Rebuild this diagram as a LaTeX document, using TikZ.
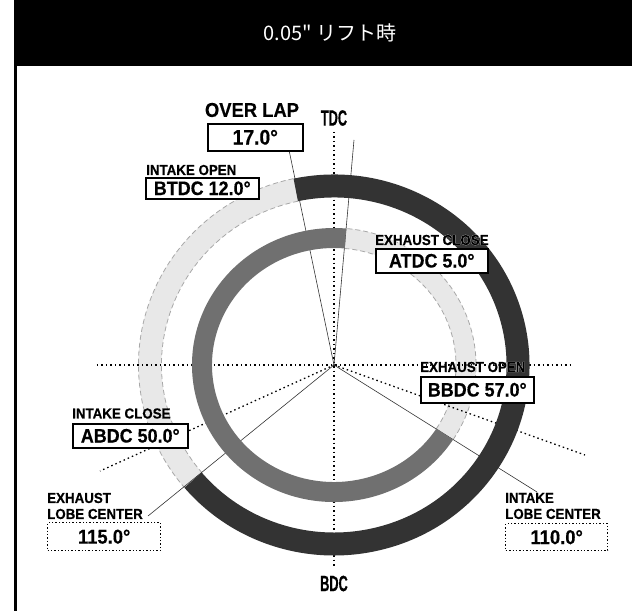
\documentclass[tikz,border=0pt]{standalone}
\usepackage{fontspec}
\setmainfont{Liberation Sans}
\newfontfamily\cjkfont{Noto Sans CJK JP}
\newfontfamily\lblfont[FakeStretch=0.92,FakeBold=0.4]{Liberation Sans Bold}
\newfontfamily\halofont[FakeStretch=0.92,FakeBold=3,Color=FFFFFF]{Liberation Sans Bold}
\newfontfamily\dcfont[FakeStretch=0.58,FakeBold=0.4]{Liberation Sans Bold}
\newcommand\halo[1]{\rlap{\halofont #1}#1}
\usetikzlibrary{math}
\definecolor{ringdark}{HTML}{333333}
\definecolor{ringmid}{HTML}{707070}
\definecolor{ringlight}{HTML}{E8E8E8}
\definecolor{ringedge}{HTML}{A8A8A8}

\begin{document}
\begin{tikzpicture}[x = 1pt, y = 1pt,
	smalllbl/.style = {anchor = west, inner sep = 0pt, font = \lblfont\fontsize{14.5}{16}\selectfont},
	valbox/.style = {draw, line width = 1.6pt, fill = white, anchor = north west, inner sep = 0pt, font = \lblfont\fontsize{19.5}{19.5}\selectfont},
	lobebox/.style = {draw, line width = 1.4pt, dash pattern = on 1.4pt off 2pt, fill = white, anchor = north west, inner sep = 0pt, font = \lblfont\fontsize{20}{20}\selectfont},
	dclbl/.style = {inner sep = 0pt, font = \dcfont\fontsize{22}{22}\selectfont},
	axisline/.style = {line width = 1.3pt, dash pattern = on 1.5pt off 3pt},
	eventline/.style = {line width = 0.6pt, black!80},
	edgedash/.style = {ringedge, line width = 0.8pt, dash pattern = on 5pt off 3pt}]

	\useasboundingbox (-334,-246) rectangle (298,365);
	\fill (-320,299) rectangle (298,365);
	\fill (-320,-246) rectangle (-317,299);
	\node[text = white, font = \cjkfont\fontsize{20}{20}\selectfont] (title) at (-4,332) {0.05" リフト時};

	\tikzmath{\oxr = 184; \oyr = 179; \ixr = 132; \iyr = 127;};

	\draw[ringlight, line width = 23pt] (102:184 and 179) arc[start angle = 102, end angle = 220, x radius = \oxr, y radius = \oyr];
	\draw[edgedash] (102:195.5 and 190.5) arc[start angle = 102, end angle = 220, x radius = \oxr + 11.5, y radius = \oyr + 11.5];
	\draw[edgedash] (102:172.5 and 167.5) arc[start angle = 102, end angle = 220, x radius = \oxr - 11.5, y radius = \oyr - 11.5];
	\draw[ringlight, line width = 20pt] (-33:132 and 127) arc[start angle = -33, end angle = 85, x radius = \ixr, y radius = \iyr];
	\draw[edgedash] (-33:142 and 137) arc[start angle = -33, end angle = 85, x radius = \ixr + 10, y radius = \iyr + 10];
	\draw[edgedash] (-33:122 and 117) arc[start angle = -33, end angle = 85, x radius = \ixr - 10, y radius = \iyr - 10];

	\coordinate (O) at (0,0);
	\coordinate (top) at (0,233);
	\coordinate (bot) at (0,-202);
	\coordinate (lft) at (-237,0);
	\coordinate (rgt) at (237,0);
	\coordinate (ilc) at (251,-90);
	\coordinate (elc) at (-234,-106);
	\coordinate (io) at (-45,215);
	\coordinate (ec) at (20,225);
	\coordinate (eo) at (203,-127);
	\coordinate (ic) at (-186,-151);

	\draw[axisline] (top) -- (bot);
	\draw[axisline] (lft) -- (rgt);
	\draw[axisline] (O) -- (ilc);
	\draw[axisline] (O) -- (elc);
	\draw[eventline] (O) -- (io);
	\draw[eventline] (O) -- (ec);
	\draw[eventline] (O) -- (eo);
	\draw[eventline] (O) -- (ic);

	\draw[ringdark, line width = 23pt] (102:184 and 179) arc[start angle = 102, end angle = -140, x radius = \oxr, y radius = \oyr];
	\draw[ringmid, line width = 20pt] (-33:132 and 127) arc[start angle = -33, end angle = -275, x radius = \ixr, y radius = \iyr];

	\node[dclbl] (tdc) at (0,247) {TDC};
	\node[dclbl] (bdc) at (0,-218.5) {BDC};

	\node[inner sep = 0pt, font = \lblfont\fontsize{20}{20}\selectfont] (ovl) at (-82,255) {OVER LAP};
	\node[valbox, minimum width = 95pt, minimum height = 27pt, font = \lblfont\fontsize{21}{21}\selectfont] (ovlval) at (-127,242) {17.0°};

	\node[smalllbl] (iolbl) at (-188,195) {INTAKE OPEN};
	\node[valbox, minimum width = 113pt, minimum height = 21pt] (ioval) at (-189,188) {BTDC 12.0°};

	\node[smalllbl] (eclbl) at (41,125) {\halo{EXHAUST CLOSE}};
	\node[valbox, minimum width = 112pt, minimum height = 24pt] (ecval) at (41,117) {ATDC 5.0°};

	\node[smalllbl] (eolbl) at (86,-2) {\halo{EXHAUST OPEN}};
	\node[valbox, minimum width = 113pt, minimum height = 26pt] (eoval) at (86,-11) {BBDC 57.0°};

	\node[smalllbl] (iclbl) at (-262,-48.5) {INTAKE CLOSE};
	\node[valbox, minimum width = 115pt, minimum height = 24pt] (icval) at (-262,-58) {ABDC 50.0°};

	\node[smalllbl, align = left] (elclbl) at (-287,-141) {EXHAUST\\LOBE CENTER};
	\node[lobebox, minimum width = 113pt, minimum height = 28pt] (elcval) at (-287,-157) {115.0°};

	\node[smalllbl, align = left] (ilclbl) at (171,-141) {INTAKE\\LOBE CENTER};
	\node[lobebox, minimum width = 102pt, minimum height = 27pt] (ilcval) at (171,-158) {110.0°};

\end{tikzpicture}
\end{document}
